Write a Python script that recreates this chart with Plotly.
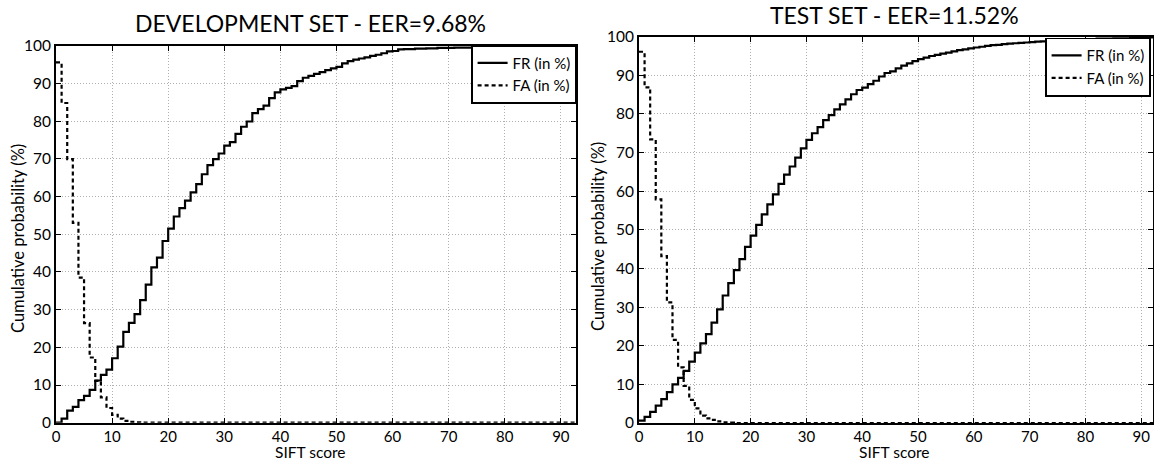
import plotly.graph_objects as go

W, H = 1154, 460

# ---------------- data ----------------
# value of each step on the interval [score, score+1), score = 0 .. 92
fr_dev = [0.0, 1.1, 3.2, 4.2, 6.0, 7.1, 8.7, 11.2, 12.7, 14.1,
          17.1, 20.2, 24.1, 26.5, 28.8, 32.5, 36.6, 41.2, 43.8, 48.2,
          51.5, 54.7, 56.9, 58.9, 61.1, 63.3, 65.9, 68.3, 69.9, 71.4,
          73.5, 74.4, 76.6, 78.5, 79.9, 82.1, 83.2, 84.1, 86.1, 87.6,
          88.4, 88.8, 89.3, 90.6, 91.5, 92.0, 92.5, 93.0, 93.5, 94.0,
          94.4, 95.3, 95.9, 96.3, 96.6, 96.9, 97.3, 97.6, 98.0, 98.5,
          98.6, 99.0, 99.1, 99.1, 99.2, 99.2, 99.3, 99.3, 99.4, 99.4,
          99.4, 99.5, 99.5, 99.5, 99.5, 99.5, 99.5, 99.5, 99.5, 99.5,
          99.6, 99.6, 99.6, 99.6, 99.6, 99.6, 99.6, 99.7, 99.7, 99.7,
          99.7, 99.7, 99.7]

fa_dev = [95.6, 84.8, 69.9, 53.0, 38.5, 26.4, 17.3, 11.1, 6.7, 3.9,
          2.1, 1.1, 0.5, 0.2, 0.1, 0.0, 0.0, 0.0, 0.0, 0.0,
          0.0, 0.0, 0.0, 0.0, 0.0, 0.0, 0.0, 0.0, 0.0, 0.0,
          0.0, 0.0, 0.0, 0.0, 0.0, 0.0, 0.0, 0.0, 0.0, 0.0,
          0.0, 0.0, 0.0, 0.0, 0.0, 0.0, 0.0, 0.0, 0.0, 0.0,
          0.0, 0.0, 0.0, 0.0, 0.0, 0.0, 0.0, 0.0, 0.0, 0.0,
          0.0, 0.0, 0.0, 0.0, 0.0, 0.0, 0.0, 0.0, 0.0, 0.0,
          0.0, 0.0, 0.0, 0.0, 0.0, 0.0, 0.0, 0.0, 0.0, 0.0,
          0.0, 0.0, 0.0, 0.0, 0.0, 0.0, 0.0, 0.0, 0.0, 0.0,
          0.0, 0.0, 0.0]

fr_test = [0.6, 1.6, 2.9, 4.5, 6.2, 8.0, 10.0, 11.7, 13.5, 15.9,
           18.2, 20.6, 23.0, 26.0, 29.4, 33.0, 36.2, 39.6, 42.4, 45.6,
           48.5, 51.3, 54.0, 56.6, 59.2, 61.9, 64.3, 66.4, 68.7, 71.1,
           73.3, 75.0, 76.6, 78.4, 79.7, 81.2, 82.5, 83.8, 85.1, 86.2,
           86.8, 87.7, 88.6, 89.7, 90.6, 91.0, 91.8, 92.5, 93.1, 93.7,
           94.2, 94.6, 95.0, 95.3, 95.6, 95.9, 96.2, 96.5, 96.7, 97.0,
           97.2, 97.4, 97.6, 97.8, 97.9, 98.1, 98.2, 98.3, 98.4, 98.5,
           98.6, 98.7, 98.8, 98.9, 99.0, 99.1, 99.2, 99.2, 99.3, 99.3,
           99.4, 99.4, 99.5, 99.5, 99.5, 99.6, 99.6, 99.6, 99.7, 99.7,
           99.7, 99.8, 99.8]

fa_test = [96.1, 86.9, 73.4, 57.9, 43.2, 31.2, 21.5, 14.4, 9.6, 6.0,
           3.8, 1.9, 1.2, 0.8, 0.4, 0.2, 0.1, 0.0, 0.0, 0.0,
           0.0, 0.0, 0.0, 0.0, 0.0, 0.0, 0.0, 0.0, 0.0, 0.0,
           0.0, 0.0, 0.0, 0.0, 0.0, 0.0, 0.0, 0.0, 0.0, 0.0,
           0.0, 0.0, 0.0, 0.0, 0.0, 0.0, 0.0, 0.0, 0.0, 0.0,
           0.0, 0.0, 0.0, 0.0, 0.0, 0.0, 0.0, 0.0, 0.0, 0.0,
           0.0, 0.0, 0.0, 0.0, 0.0, 0.0, 0.0, 0.0, 0.0, 0.0,
           0.0, 0.0, 0.0, 0.0, 0.0, 0.0, 0.0, 0.0, 0.0, 0.0,
           0.0, 0.0, 0.0, 0.0, 0.0, 0.0, 0.0, 0.0, 0.0, 0.0,
           0.0, 0.0, 0.0]

x_ticks = [0, 10, 20, 30, 40, 50, 60, 70, 80, 90]
y_ticks = [0, 10, 20, 30, 40, 50, 60, 70, 80, 90, 100]

titles = ["DEVELOPMENT SET - EER=9.68%", "TEST SET - EER=11.52%"]
series_names = ["FR (in %)", "FA (in %)"]
x_label = "SIFT score"
y_label = "Cumulative probability (%)"

FONT = "Lato"


def stairs(vals):
    xs = list(range(len(vals) + 1))
    ys = list(vals) + [vals[-1]]
    return xs, ys


fig = go.Figure()

panels = [
    (fr_dev, fa_dev, "x", "y", "legend"),
    (fr_test, fa_test, "x2", "y2", "legend2"),
]
for fr, fa, xa, ya, lg in panels:
    xs, ys = stairs(fr)
    fig.add_trace(go.Scatter(x=xs, y=ys, mode="lines", line_shape="hv",
                             line=dict(color="black", width=2.2),
                             name=series_names[0], xaxis=xa, yaxis=ya, legend=lg))
    xs, ys = stairs(fa)
    fig.add_trace(go.Scatter(x=xs, y=ys, mode="lines", line_shape="hv",
                             line=dict(color="black", width=2.2, dash="4px,3px"),
                             name=series_names[1], xaxis=xa, yaxis=ya, legend=lg))


def xaxis_style(domain, rng, anchor):
    return dict(domain=domain, range=rng, anchor=anchor,
                tickmode="array", tickvals=x_ticks,
                ticks="inside", ticklen=5, tickwidth=1, tickcolor="black",
                showline=True, linecolor="black", linewidth=1.6, mirror="ticks",
                showgrid=True, gridcolor="#b0b0b0", gridwidth=1, griddash="1px,2px",
                zeroline=False, automargin=False, ticklabelstandoff=-1,
                tickfont=dict(family=FONT, size=15, color="black"))


def yaxis_style(domain, anchor):
    return dict(domain=domain, range=[0, 100], anchor=anchor,
                tickmode="array", tickvals=y_ticks,
                ticks="inside", ticklen=5, tickwidth=1, tickcolor="black",
                showline=True, linecolor="black", linewidth=1.6, mirror="ticks",
                showgrid=True, gridcolor="#b0b0b0", gridwidth=1, griddash="1px,2px",
                zeroline=False, automargin=False,
                tickfont=dict(family=FONT, size=15.5, color="black"))


# pixel geometry of the two plot areas
L1, R1, T1, B1 = 56, 576, 45.7, 422.7
L2, R2, T2, B2 = 639, 1153, 36.7, 423.0

legend_common = dict(bgcolor="white", bordercolor="black", borderwidth=1.6,
                     font=dict(family=FONT, size=15, color="black"),
                     itemwidth=30, tracegroupgap=0)


def ann(text, x, y, size, angle=0):
    return dict(text=text, x=x / W, y=(H - y) / H, xref="paper", yref="paper",
                xanchor="center", yanchor="middle", showarrow=False, textangle=angle,
                borderpad=0, font=dict(family=FONT, size=size, color="black"))


fig.update_layout(
    width=W, height=H,
    margin=dict(l=0, r=0, t=0, b=0, autoexpand=False),
    paper_bgcolor="white", plot_bgcolor="white",
    xaxis=xaxis_style([L1 / W, R1 / W], [0, 92.7], "y"),
    yaxis=yaxis_style([(H - B1) / H, (H - T1) / H], "x"),
    xaxis2=xaxis_style([L2 / W, R2 / W], [0, 92.1], "y2"),
    yaxis2=yaxis_style([(H - B2) / H, (H - T2) / H], "x2"),
    legend=dict(x=577 / W, y=(H - 45) / H, xanchor="right", yanchor="top", **legend_common),
    legend2=dict(x=1045 / W, y=(H - 37.5) / H, xanchor="left", yanchor="top", **legend_common),
    showlegend=True,
    annotations=[
        ann(titles[0], 310, 22.6, 23),
        ann(titles[1], 894, 15.2, 23),
        ann(x_label, 310, 451.5, 15.5),
        ann(x_label, 894, 451.5, 15.5),
        ann(y_label, 18, 239, 16.5, -90),
        ann(y_label, 598, 237, 16.5, -90),
    ],
)

# remove the browser's default 8px page margin so the figure sits at (0, 0)
fig.write_html("out.html",
               config={"displayModeBar": False},
               post_script="document.body.style.margin='0px';document.body.style.overflow='hidden';")
